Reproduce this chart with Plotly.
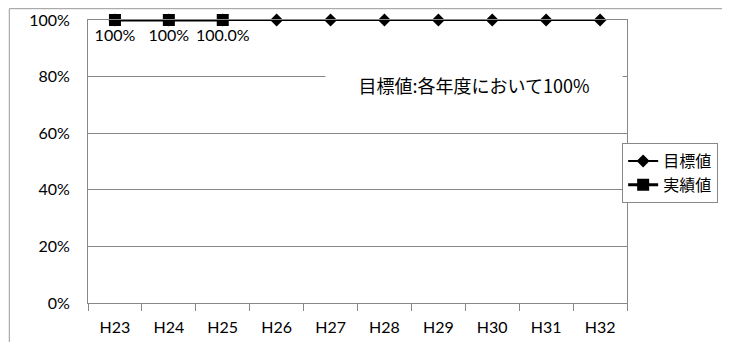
import plotly.graph_objects as go

# data
years = ["H23", "H24", "H25", "H26", "H27", "H28", "H29", "H30", "H31", "H32"]
target = [100, 100, 100, 100, 100, 100, 100, 100, 100, 100]
actual_years = ["H23", "H24", "H25"]
actual = [100, 100, 100]
actual_labels = ["100%", "100%", "100.0%"]

jp_font = "Noto Sans CJK JP"
num_font = "Lato, Noto Sans, sans-serif"

fig = go.Figure()

fig.add_trace(go.Scatter(x=years, y=target, name="目標値",
                         mode="lines+markers",
                         line=dict(color="black", width=2),
                         marker=dict(symbol="diamond", size=10, color="black"),
                         cliponaxis=False))

fig.add_trace(go.Scatter(x=actual_years, y=actual, name="実績値",
                         mode="lines+markers+text",
                         line=dict(color="black", width=3),
                         marker=dict(symbol="square", size=12, color="black"),
                         text=actual_labels, textposition="bottom center",
                         textfont=dict(family=num_font, size=16, color="black"),
                         cliponaxis=False))

fig.update_xaxes(type="category", range=[-0.5, 9.5], showline=True, linecolor="#888888",
                 linewidth=1, mirror=True, ticks="outside", tickson="boundaries",
                 ticklen=7, tickcolor="#888888", showgrid=False, automargin=False,
                 ticklabelstandoff=10,
                 tickfont=dict(family=num_font, size=16, color="black"))
fig.update_yaxes(range=[0, 100], dtick=20, ticksuffix="%", showline=True,
                 linecolor="#888888", linewidth=1, mirror=True, ticks="",
                 showgrid=True, gridcolor="#888888", gridwidth=1, zeroline=False,
                 automargin=False, ticklabelstandoff=14,
                 tickfont=dict(family=num_font, size=16, color="black"))

# note box
fig.add_annotation(text="目標値:各年度において100%", xref="paper", yref="paper",
                   x=0.717, y=0.77, xanchor="center", yanchor="middle",
                   showarrow=False, bgcolor="white", width=294, height=44,
                   font=dict(family=jp_font, size=18, color="black"))

# outer chart frame
fig.add_shape(type="line", xref="paper", yref="paper", x0=-0.146, y0=-0.2, x1=-0.146, y1=1.04,
              line=dict(color="#999999", width=1))
fig.add_shape(type="line", xref="paper", yref="paper", x0=-0.146, y0=1.04, x1=1.3, y1=1.04,
              line=dict(color="#999999", width=1))

fig.update_layout(width=722, height=334,
                  margin=dict(l=80, r=100, t=12, b=39),
                  plot_bgcolor="white", paper_bgcolor="white",
                  showlegend=True,
                  legend=dict(x=0.991, y=0.565, xanchor="left", yanchor="top",
                              bgcolor="white", bordercolor="#888888", borderwidth=1,
                              font=dict(family=jp_font, size=16, color="black"),
                              tracegroupgap=0, itemwidth=30))

fig.write_html("out.html")
